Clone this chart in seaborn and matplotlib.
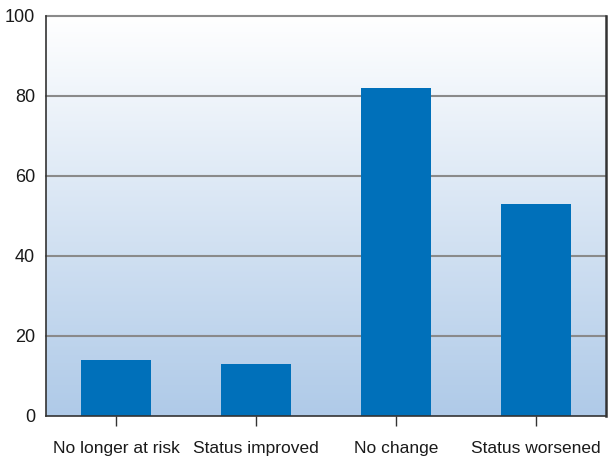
import matplotlib
matplotlib.use("Agg")
import matplotlib.pyplot as plt
import seaborn as sns
import numpy as np
import pandas as pd
from matplotlib.colors import LinearSegmentedColormap

categories = ['No longer at risk', 'Status improved', 'No change', 'Status worsened']
values = [14, 13, 82, 53]
y_ticks = [0, 20, 40, 60, 80, 100]

sns.set_style('white')
plt.rcParams['font.family'] = ['Liberation Sans Narrow', 'Liberation Sans', 'DejaVu Sans']

df = pd.DataFrame({'status': categories, 'value': values})

fig, ax = plt.subplots(figsize=(6.08, 4.58), dpi=100)
plt.subplots_adjust(left=46 / 608, right=606 / 608, top=1 - 16 / 458, bottom=1 - 416 / 458)

# gradient background, white at top -> light blue at bottom
grad = np.linspace(0, 1, 256).reshape(-1, 1)
cmap = LinearSegmentedColormap.from_list('bg', ['#ffffff', '#afcae8'])
ax.imshow(grad, cmap=cmap, aspect='auto', origin='upper', extent=[-0.5, 3.5, 0, 100], zorder=0)

for t in y_ticks[1:]:
    ax.axhline(t, color='#8a8a8a', lw=1.5, zorder=1, clip_on=False)

sns.barplot(data=df, x='status', y='value', color='#0070ba', width=0.5, saturation=1,
            linewidth=0, edgecolor='none', ax=ax, zorder=2)

ax.set_xlim(-0.5, 3.5)
ax.set_ylim(0, 100)
ax.set_yticks(y_ticks)
ax.set_xlabel('')
ax.set_ylabel('')
ax.tick_params(axis='y', left=False, length=0, pad=8, labelsize=13, colors='#1a1a1a')
ax.tick_params(axis='x', bottom=True, length=7, width=1, direction='out', pad=11, labelsize=12.5,
               color='#333333', labelcolor='#1a1a1a')

for side in ['left', 'bottom', 'right']:
    ax.spines[side].set_color('#333333')
    ax.spines[side].set_linewidth(1.2)
ax.spines['top'].set_visible(False)
ax.spines['right'].set_linewidth(1.8)

fig.savefig('out.png', dpi=100)
